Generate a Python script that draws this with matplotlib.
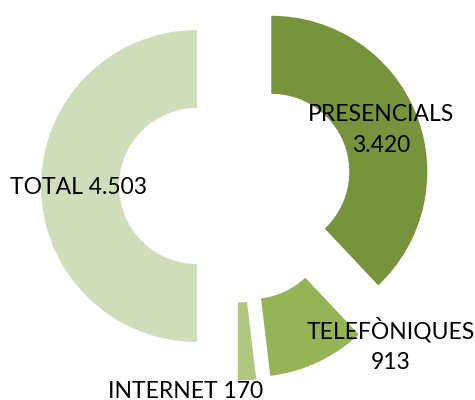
import matplotlib
matplotlib.use("Agg")
import matplotlib.pyplot as plt

categories = ["PRESENCIALS", "TELEFÒNIQUES", "INTERNET", "TOTAL"]
values = [3420, 913, 170, 4503]
value_labels = ["3.420", "913", "170", "4.503"]
colors = ["#77933C", "#94B455", "#AFC77F", "#D0DDBA"]

W, H = 475, 400
fig = plt.figure(figsize=(W / 100, H / 100), dpi=100)
ax = fig.add_axes([0, 0, 1, 1])

cx, cy, R = 235.5, 214, 156
ax.pie(values, colors=colors, startangle=90, counterclock=False,
       radius=R, center=(cx, cy), explode=[38.5] * 4,
       wedgeprops=dict(width=R * 0.5, linewidth=0), frame=True)
ax.set_xlim(0, W)
ax.set_ylim(0, H)
ax.set_aspect("equal")
ax.axis("off")

font = dict(family=["Lato", "DejaVu Sans"], fontsize=16.5, color="black",
            ha="center", va="center", zorder=5, linespacing=1.55)
ax.text(381, 400 - 130, f"{categories[0]}\n{value_labels[0]}", **font)
ax.text(391, 400 - 345, f"{categories[1]}\n{value_labels[1]}", **font)
ax.text(186, 400 - 391, f"{categories[2]} {value_labels[2]}", **font)
ax.text(79, 400 - 188, f"{categories[3]} {value_labels[3]}", **font)

fig.savefig("out.png", dpi=100)
